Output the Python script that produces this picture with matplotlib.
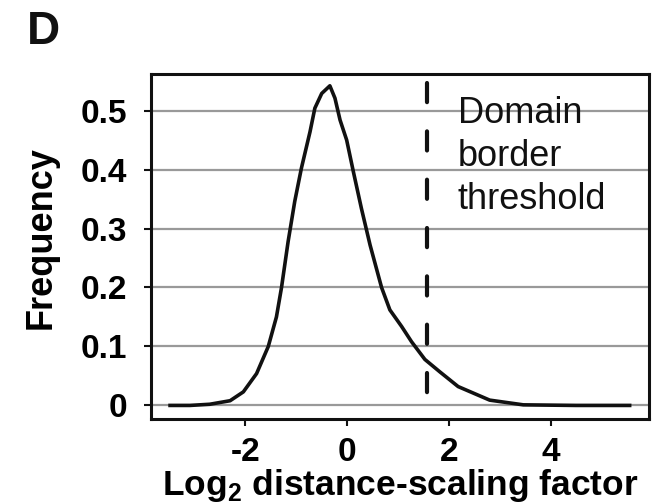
import numpy as np
import matplotlib
matplotlib.use("Agg")
import matplotlib.pyplot as plt

plt.rcParams['font.family'] = ['Liberation Sans', 'DejaVu Sans']
plt.rcParams['mathtext.fontset'] = 'custom'
plt.rcParams['mathtext.rm'] = 'Liberation Sans:bold'
plt.rcParams['mathtext.bf'] = 'Liberation Sans:bold'

# distribution of log2 distance-scaling factors
log2_factor = [-3.48, -3.09, -2.70, -2.30, -2.04, -1.78, -1.55, -1.39, -1.29, -1.16,
               -1.03, -0.90, -0.73, -0.635, -0.50, -0.34, -0.24, -0.14, -0.01, 0.12,
               0.28, 0.45, 0.676, 0.839, 1.069, 1.265, 1.527, 1.82, 2.18, 2.80,
               3.46, 4.5, 5.55]
frequency = [0, 0, 0.002, 0.008, 0.023, 0.054, 0.100, 0.150, 0.200, 0.278,
             0.346, 0.402, 0.464, 0.504, 0.529, 0.542, 0.521, 0.484, 0.450, 0.397,
             0.334, 0.272, 0.200, 0.162, 0.134, 0.108, 0.078, 0.057, 0.032, 0.009,
             0.001, 0, 0]
threshold = 1.56

xticks = [-2, 0, 2, 4]
yticks = [0, 0.1, 0.2, 0.3, 0.4, 0.5]
ytick_labels = ['0', '0.1', '0.2', '0.3', '0.4', '0.5']

fig = plt.figure(figsize=(6.59, 5.03), dpi=100)
ax = fig.add_axes([0.2287, 0.167, 0.7561, 0.6859])

for yv in yticks:
    ax.axhline(yv, color='#999999', lw=1.6, zorder=1)

ax.plot(log2_factor, frequency, color='#111111', lw=2.6, zorder=3,
        solid_joinstyle='round')
ax.plot([threshold, threshold], [0.547, -0.008], color='#111111', lw=3.0,
        dashes=(4.6, 7.0), dash_capstyle='round', zorder=2)

ax.text(2.17, 0.524, 'Domain\nborder\nthreshold', fontsize=26, va='top',
        ha='left', linespacing=1.28, color='#111111')

ax.set_xlim(-3.86, 5.93)
ax.set_ylim(-0.023, 0.562)
ax.set_xticks(xticks)
ax.set_xticklabels([str(t) for t in xticks], fontsize=24, fontweight='bold')
ax.set_yticks(yticks)
ax.set_yticklabels(ytick_labels, fontsize=24, fontweight='bold')
ax.tick_params(axis='both', direction='out', length=5, width=1.5, color='#111111')
ax.tick_params(axis='y', pad=12)
ax.tick_params(axis='x', pad=8)

for sp in ax.spines.values():
    sp.set_linewidth(2.2)
    sp.set_color('#111111')

ax.set_ylabel('Frequency', fontsize=26, fontweight='bold')
ax.yaxis.set_label_coords(-0.184, 0.526)
ax.set_xlabel(r'Log$_{\mathbf{2}}$ distance-scaling factor', fontsize=25.5,
              fontweight='bold', labelpad=-1)

fig.text(0.041, 0.912, 'D', fontsize=33, fontweight='bold', color='#111111')

fig.savefig('out.png', dpi=100)
